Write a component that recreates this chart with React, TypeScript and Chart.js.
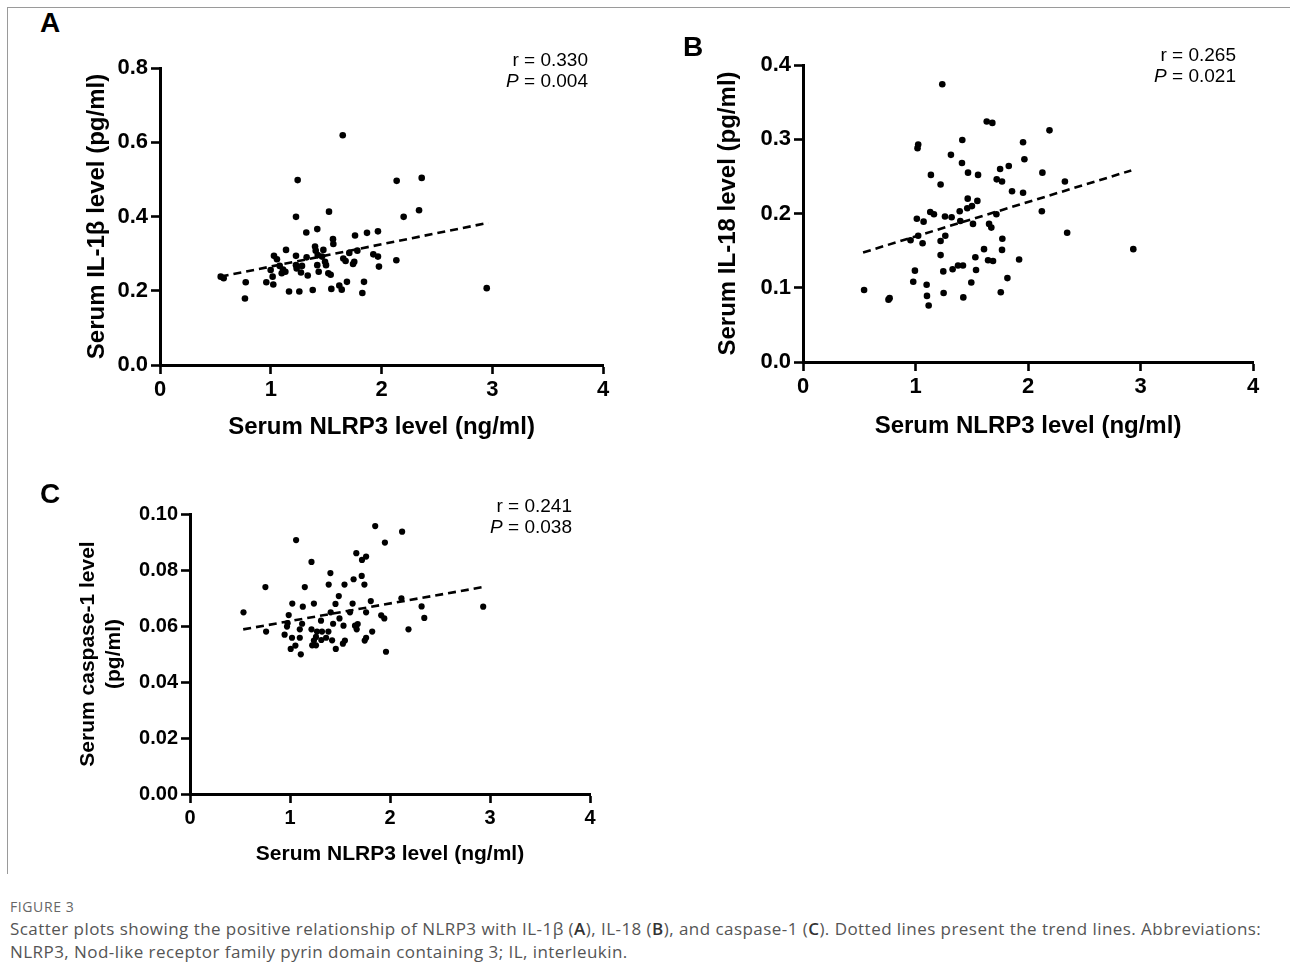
import React, { useEffect, useRef } from "react";
import Chart from "chart.js/auto";

// ---------- data ----------
const xTicks = [0, 1, 2, 3, 4];

// Panel A: NLRP3 (ng/ml) vs IL-1β (pg/ml)
const aX = [1.65,1.243,2.137,2.363,1.228,1.526,2.2,2.339,1.321,1.42,1.761,1.869,1.968,1.562,1.565,1.138,1.4,1.475,1.406,1.029,1.056,1.228,1.324,1.424,1.463,1.676,1.709,1.754,1.782,1.926,1.968,2.134,1.977,1.111,1.132,0.999,1.228,1.282,1.42,1.49,1.499,1.017,1.273,1.334,1.433,1.52,1.541,0.548,0.575,0.774,0.96,1.023,1.165,1.258,1.379,1.547,1.619,1.641,1.688,1.842,1.827,0.767,2.95,1.099,1.655,1.743,1.081,1.234];
const aY = [0.619,0.498,0.496,0.504,0.399,0.413,0.399,0.417,0.357,0.366,0.349,0.356,0.36,0.339,0.326,0.31,0.319,0.31,0.308,0.294,0.285,0.294,0.29,0.296,0.292,0.28,0.302,0.278,0.308,0.298,0.292,0.282,0.265,0.257,0.251,0.256,0.269,0.267,0.269,0.278,0.269,0.238,0.249,0.241,0.251,0.247,0.243,0.238,0.234,0.223,0.223,0.217,0.198,0.198,0.202,0.205,0.214,0.203,0.224,0.224,0.194,0.179,0.207,0.247,0.287,0.272,0.267,0.26];
const trendAX = [0.548, 2.965];
const trendAY = [0.238, 0.383];
const aYTicks = [0, 0.2, 0.4, 0.6, 0.8];

// Panel B: NLRP3 vs IL-18
const bX = [1.238,1.633,1.683,2.191,1.416,1.024,1.018,1.956,1.315,1.413,1.968,1.752,1.829,1.137,1.467,1.556,2.128,1.223,1.722,1.769,2.328,1.858,1.956,1.464,1.55,1.46,1.502,1.393,1.131,1.164,1.262,1.321,1.719,2.123,1.012,1.072,1.398,1.511,1.654,1.674,2.348,1.024,0.956,1.063,1.223,1.265,1.772,1.609,1.769,2.936,1.223,1.532,1.645,1.689,1.921,1.33,1.378,1.422,1.247,1.538,0.995,0.98,1.099,1.496,1.817,0.543,0.76,0.77,1.102,1.25,1.425,1.758,1.117];
const bY = [0.374,0.324,0.322,0.312,0.299,0.293,0.288,0.296,0.279,0.268,0.273,0.26,0.264,0.252,0.255,0.252,0.255,0.239,0.246,0.243,0.243,0.23,0.228,0.22,0.217,0.207,0.21,0.203,0.202,0.199,0.196,0.195,0.199,0.203,0.193,0.189,0.19,0.186,0.186,0.181,0.174,0.17,0.164,0.16,0.163,0.17,0.166,0.152,0.151,0.152,0.144,0.141,0.137,0.136,0.138,0.125,0.13,0.13,0.122,0.124,0.123,0.108,0.104,0.107,0.113,0.097,0.084,0.086,0.089,0.093,0.087,0.094,0.076];
const trendBX = [0.534, 2.918];
const trendBY = [0.1475, 0.258];
const bYTicks = [0, 0.1, 0.2, 0.3, 0.4];

// Panel C: NLRP3 vs caspase-1
const cX = [1.852,2.121,1.061,1.949,1.663,1.761,1.72,1.215,1.404,1.717,1.636,1.387,1.545,1.744,0.754,1.148,1.488,2.114,1.808,1.023,1.239,1.455,1.626,1.128,2.316,2.932,0.535,1.407,1.761,1.6,0.987,1.912,1.943,2.343,1.31,1.495,0.976,1.121,1.431,1.535,1.65,1.677,0.97,1.098,1.215,1.27,1.32,1.384,1.667,1.822,2.185,0.761,0.946,1.02,1.098,1.26,1.361,1.239,1.313,1.421,1.761,1.747,1.549,1.529,1.054,1.007,1.222,1.26,1.458,1.96,1.108];
const cY = [0.0957,0.0937,0.0907,0.0898,0.086,0.0848,0.0836,0.0829,0.0789,0.0779,0.0767,0.0748,0.0748,0.0748,0.0739,0.0739,0.0707,0.0699,0.0689,0.068,0.068,0.0679,0.068,0.0669,0.067,0.0669,0.0649,0.0649,0.0649,0.0649,0.0639,0.0638,0.0627,0.0629,0.0619,0.0627,0.061,0.0608,0.0608,0.0601,0.0601,0.0607,0.0598,0.0588,0.0588,0.058,0.058,0.058,0.0588,0.058,0.0588,0.058,0.0569,0.0558,0.0558,0.0561,0.0558,0.0548,0.055,0.0549,0.0558,0.0548,0.0548,0.0537,0.053,0.0518,0.0531,0.0531,0.0518,0.0508,0.0499];
const trendCX = [0.532, 2.946];
const trendCY = [0.0588, 0.074];
const cYTicks = [0, 0.02, 0.04, 0.06, 0.08, 0.1];

const FONT = "'Liberation Sans', Arial, Helvetica, sans-serif";
const CAPTION_FONT = "'Open Sans', 'Noto Sans', sans-serif";

type PanelProps = {
  left: number; top: number; width: number; height: number;
  xs: number[]; ys: number[]; tx: number[]; ty: number[];
  yTicks: number[]; yDecimals: number;
  yTitle: string | string[]; xTitle: string;
  padTop: number; padRight: number;
  yAxisWidth: number; xAxisHeight: number;
  yTitlePad: number; xTitlePad: number;
  tickSize: number; titleSize: number; radius: number;
};

function Panel(p: PanelProps) {
  const ref = useRef<HTMLCanvasElement | null>(null);
  useEffect(() => {
    if (!ref.current) return;
    const tickFont = { family: FONT, size: p.tickSize, weight: "bold" as const };
    const titleFont = { family: FONT, size: p.titleSize, weight: "bold" as const, lineHeight: 1.2 };
    const grid = {
      display: true, drawOnChartArea: false, drawTicks: true,
      tickLength: 9, tickWidth: 2.6, tickColor: "#000", color: "#000",
    };
    const yMin = p.yTicks[0];
    const yMax = p.yTicks[p.yTicks.length - 1];
    const chart = new Chart(ref.current, {
      type: "scatter",
      data: {
        datasets: [
          {
            data: p.xs.map((x, i) => ({ x, y: p.ys[i] })),
            pointRadius: p.radius,
            pointBackgroundColor: "#000",
            pointBorderWidth: 0,
            backgroundColor: "#000",
            borderColor: "#000",
          },
          {
            data: p.tx.map((x, i) => ({ x, y: p.ty[i] })),
            showLine: true,
            pointRadius: 0,
            borderColor: "#000",
            borderWidth: 2.6,
            borderDash: [8, 5],
            fill: false,
          },
        ],
      },
      options: {
        animation: false,
        responsive: false,
        maintainAspectRatio: false,
        devicePixelRatio: 1,
        layout: { padding: { top: p.padTop, right: p.padRight, left: 0, bottom: 0 } },
        plugins: { legend: { display: false }, tooltip: { enabled: false } },
        scales: {
          x: {
            type: "linear",
            min: xTicks[0],
            max: xTicks[xTicks.length - 1],
            afterBuildTicks: (s: any) => { s.ticks = xTicks.map((v) => ({ value: v })); },
            ticks: { color: "#000", font: tickFont, padding: 3, maxRotation: 0, callback: (v: any) => String(v) },
            grid,
            border: { display: true, color: "#000", width: 3 },
            title: { display: true, text: p.xTitle, color: "#000", font: titleFont, padding: { top: 0, bottom: p.xTitlePad } },
            afterFit: (s: any) => { s.height = p.xAxisHeight; },
          },
          y: {
            type: "linear",
            min: yMin,
            max: yMax,
            afterBuildTicks: (s: any) => { s.ticks = p.yTicks.map((v) => ({ value: v })); },
            ticks: { color: "#000", font: tickFont, padding: 3, callback: (v: any) => Number(v).toFixed(p.yDecimals) },
            grid,
            border: { display: true, color: "#000", width: 3 },
            title: { display: true, text: p.yTitle, color: "#000", font: titleFont, padding: { top: p.yTitlePad, bottom: 0 } },
            afterFit: (s: any) => { s.width = p.yAxisWidth; },
          },
        },
      } as any,
    });
    return () => chart.destroy();
  }, []);
  return (
    <canvas
      ref={ref}
      width={p.width}
      height={p.height}
      style={{ position: "absolute", left: p.left, top: p.top, width: p.width, height: p.height }}
    />
  );
}

const letterStyle: React.CSSProperties = {
  position: "absolute", fontFamily: FONT, fontWeight: "bold", fontSize: 28, lineHeight: "28px", color: "#000",
};
const statStyle: React.CSSProperties = {
  position: "absolute", fontFamily: FONT, fontSize: 19, lineHeight: "21px", color: "#000",
  textAlign: "right", whiteSpace: "nowrap",
};

function Stat({ right, top, r, p }: { right: number; top: number; r: string; p: string }) {
  return (
    <div style={{ ...statStyle, left: right - 200, width: 200, top }}>
      <div>r = {r}</div>
      <div><i>P</i> = {p}</div>
    </div>
  );
}

const capBold: React.CSSProperties = { color: "#333", fontWeight: 600 };

export default function App() {
  return (
    <div style={{ position: "absolute", left: 0, top: 0, width: 1290, height: 976, background: "#fff", overflow: "hidden" }}>
      <div style={{ position: "absolute", left: 7, top: 7, width: 1290, height: 866, borderTop: "1px solid #9a9a9a", borderLeft: "1px solid #9a9a9a" }} />

      <Panel left={60} top={40} width={570} height={420}
        xs={aX} ys={aY} tx={trendAX} ty={trendAY} yTicks={aYTicks} yDecimals={1}
        yTitle="Serum IL-1β level (pg/ml)" xTitle="Serum NLRP3 level (ng/ml)"
        padTop={28} padRight={27} yAxisWidth={100} xAxisHeight={95}
        yTitlePad={23} xTitlePad={18} tickSize={22} titleSize={24} radius={3.3} />

      <Panel left={700} top={37} width={580} height={420}
        xs={bX} ys={bY} tx={trendBX} ty={trendBY} yTicks={bYTicks} yDecimals={1}
        yTitle="Serum IL-18 level (pg/ml)" xTitle="Serum NLRP3 level (ng/ml)"
        padTop={28} padRight={27} yAxisWidth={103} xAxisHeight={95}
        yTitlePad={14} xTitlePad={16} tickSize={22} titleSize={24} radius={3.3} />

      <Panel left={60} top={486} width={560} height={400}
        xs={cX} ys={cY} tx={trendCX} ty={trendCY} yTicks={cYTicks} yDecimals={2}
        yTitle={["Serum caspase-1 level", "(pg/ml)"]} xTitle="Serum NLRP3 level (ng/ml)"
        padTop={28} padRight={30} yAxisWidth={130} xAxisHeight={92}
        yTitlePad={16} xTitlePad={19} tickSize={20} titleSize={21} radius={3.1} />

      <div style={{ ...letterStyle, left: 40, top: 9 }}>A</div>
      <div style={{ ...letterStyle, left: 683, top: 33 }}>B</div>
      <div style={{ ...letterStyle, left: 40, top: 480 }}>C</div>

      <Stat right={588} top={49} r="0.330" p="0.004" />
      <Stat right={1236} top={44} r="0.265" p="0.021" />
      <Stat right={572} top={495} r="0.241" p="0.038" />

      <div style={{ position: "absolute", left: 10, top: 898, fontFamily: CAPTION_FONT, fontSize: 14, lineHeight: "18px", color: "#666", letterSpacing: 0.6 }}>
        FIGURE 3
      </div>
      <div style={{ position: "absolute", left: 10, top: 917, fontFamily: CAPTION_FONT, fontSize: 17, lineHeight: "23px", color: "#555", whiteSpace: "nowrap", letterSpacing: 0.45 }}>
        Scatter plots showing the positive relationship of NLRP3 with IL-1β (<b style={capBold}>A</b>), IL-18 (<b style={capBold}>B</b>), and caspase-1 (<b style={capBold}>C</b>). Dotted lines present the trend lines. Abbreviations:
        <br />
        NLRP3, Nod-like receptor family pyrin domain containing 3; IL, interleukin.
      </div>
    </div>
  );
}
